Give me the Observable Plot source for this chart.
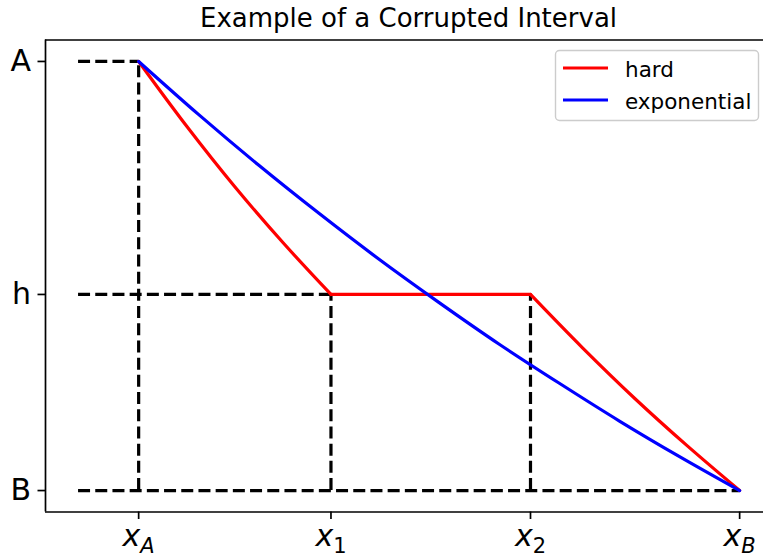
<!DOCTYPE html>
<html>
<head>
<meta charset="utf-8">
<script src="https://cdn.jsdelivr.net/npm/d3@7"></script>
<script src="https://cdn.jsdelivr.net/npm/@observablehq/plot@0.6"></script>
<style>
  html, body { margin: 0; padding: 0; background: #fff; }
  svg { display: block; }
</style>
</head>
<body>
<div id="chart"></div>
<script>
// ---- data ----
const titleText = "Example of a Corrupted Interval";
const seriesNames = ["hard", "exponential"];

// x tick positions (xA, x1, x2, xB) and their subscripts
const xTickValues = [0, 0.32, 0.652, 1];
const xTickSubs = ["A", "1", "2", "B"];
// y tick positions (B, h, A)
const yTickValues = [0, 0.457, 1];
const yTickLabels = ["B", "h", "A"];
const guideStart = -0.1;

// "hard" curve (red): descent A->h, plateau at h, descent h->B
const hardSegment = [1, 1, 1, 1, 1, 2, 2, 3, 3, 3, 3, 3];
const hardX = [0, 0.08, 0.16, 0.24, 0.32, 0.32, 0.652, 0.652, 0.739, 0.826, 0.913, 1];
const hardY = [1, 0.849, 0.708, 0.578, 0.457, 0.457, 0.457, 0.457, 0.332, 0.214, 0.104, 0];

// "exponential" curve (blue)
const expX = [0, 0.1, 0.2, 0.3, 0.4, 0.5, 0.6, 0.7, 0.8, 0.9, 1];
const expY = [1, 0.876, 0.758, 0.646, 0.539, 0.438, 0.341, 0.250, 0.162, 0.079, 0];

// ---- derived tables ----
const [xA, x1, x2, xB] = xTickValues;
const [yB, yh, yA] = yTickValues;
const hardData = hardX.map((x, i) => ({x, y: hardY[i], seg: hardSegment[i]}));
const expData = expX.map((x, i) => ({x, y: expY[i]}));
const hGuides = [
  {y: yA, xa: guideStart, xb: xA},
  {y: yh, xa: guideStart, xb: x1},
  {y: yB, xa: guideStart, xb: xB}
];
const vGuides = [
  {x: xA, ya: yB, yb: yA},
  {x: x1, ya: yB, yb: yh},
  {x: x2, ya: yB, yb: yh}
];

const xDomain = [-0.155, 1.0397];
const yDomain = [-0.05, 1.05];
const colors = {hard: "#ff0000", exponential: "#0000ff"};
const dash = "12,5.2";
const lw = 3.2;

const svg = Plot.plot({
  width: 763,
  height: 557,
  marginLeft: 45,
  marginRight: 0,
  marginTop: 39.5,
  marginBottom: 45.5,
  style: {fontFamily: "'DejaVu Sans', sans-serif", fontSize: "30px", color: "black", background: "white"},
  x: {domain: xDomain, axis: null},
  y: {domain: yDomain, axis: null},
  marks: [
    Plot.ruleY(hGuides, {y: "y", x1: "xa", x2: "xb", stroke: "black", strokeWidth: lw, strokeDasharray: dash}),
    Plot.ruleX(vGuides, {x: "x", y1: "ya", y2: "yb", stroke: "black", strokeWidth: lw, strokeDasharray: dash}),
    Plot.line(hardData, {x: "x", y: "y", z: "seg", stroke: colors.hard, strokeWidth: lw, curve: "catmull-rom"}),
    Plot.line(expData, {x: "x", y: "y", stroke: colors.exponential, strokeWidth: lw, curve: "catmull-rom"}),
    // spines (top, bottom, left)
    Plot.ruleY([yDomain[1], yDomain[0]], {stroke: "black", strokeWidth: 1.7}),
    Plot.ruleX([xDomain[0]], {stroke: "black", strokeWidth: 1.7}),
    Plot.axisY(yTickValues, {anchor: "left", tickSize: 7.5, tickPadding: 7, strokeWidth: 1.7,
      tickFormat: (d, i) => yTickLabels[i], fontSize: 30, label: null}),
    Plot.axisX(xTickValues, {anchor: "bottom", tickSize: 7.5, tickPadding: 5, strokeWidth: 1.7,
      tickFormat: (d, i) => "x" + xTickSubs[i], fontSize: 30, label: null}),
    Plot.text([titleText], {text: d => d, frameAnchor: "top", lineAnchor: "bottom", dx: 4, dy: -13,
      fontSize: 26, textAnchor: "middle"})
  ]
});

const sel = d3.select(svg);
// subscripts for x tick labels
sel.selectAll('g[aria-label="x-axis tick label"] text').each(function(d, i) {
  const t = d3.select(this);
  const sub = xTickSubs[i];
  t.text(null);
  t.append("tspan").attr("font-style", "italic").text("x");
  t.append("tspan").attr("dy", "0.33em").attr("font-size", "0.7em")
    .attr("font-style", /[A-Za-z]/.test(sub) ? "italic" : "normal").text(sub);
});

// legend
const lg = sel.append("g").attr("font-family", "'DejaVu Sans', sans-serif")
  .style("font-size", "21.5px").attr("text-anchor", "start");
lg.append("rect").attr("x", 555.5).attr("y", 50.5).attr("width", 203).attr("height", 70)
  .attr("rx", 4).attr("fill", "white").attr("fill-opacity", 0.8)
  .attr("stroke", "#cccccc").attr("stroke-width", 1.4);
seriesNames.forEach((name, i) => {
  const y = 68 + i * 32;
  lg.append("line").attr("x1", 563).attr("x2", 608).attr("y1", y).attr("y2", y)
    .attr("stroke", colors[name]).attr("stroke-width", lw);
  lg.append("text").attr("x", 625).attr("y", y + 8.5).attr("fill", "black")
    .attr("text-anchor", "start").text(name);
});

document.getElementById("chart").appendChild(svg);
</script>
</body>
</html>
